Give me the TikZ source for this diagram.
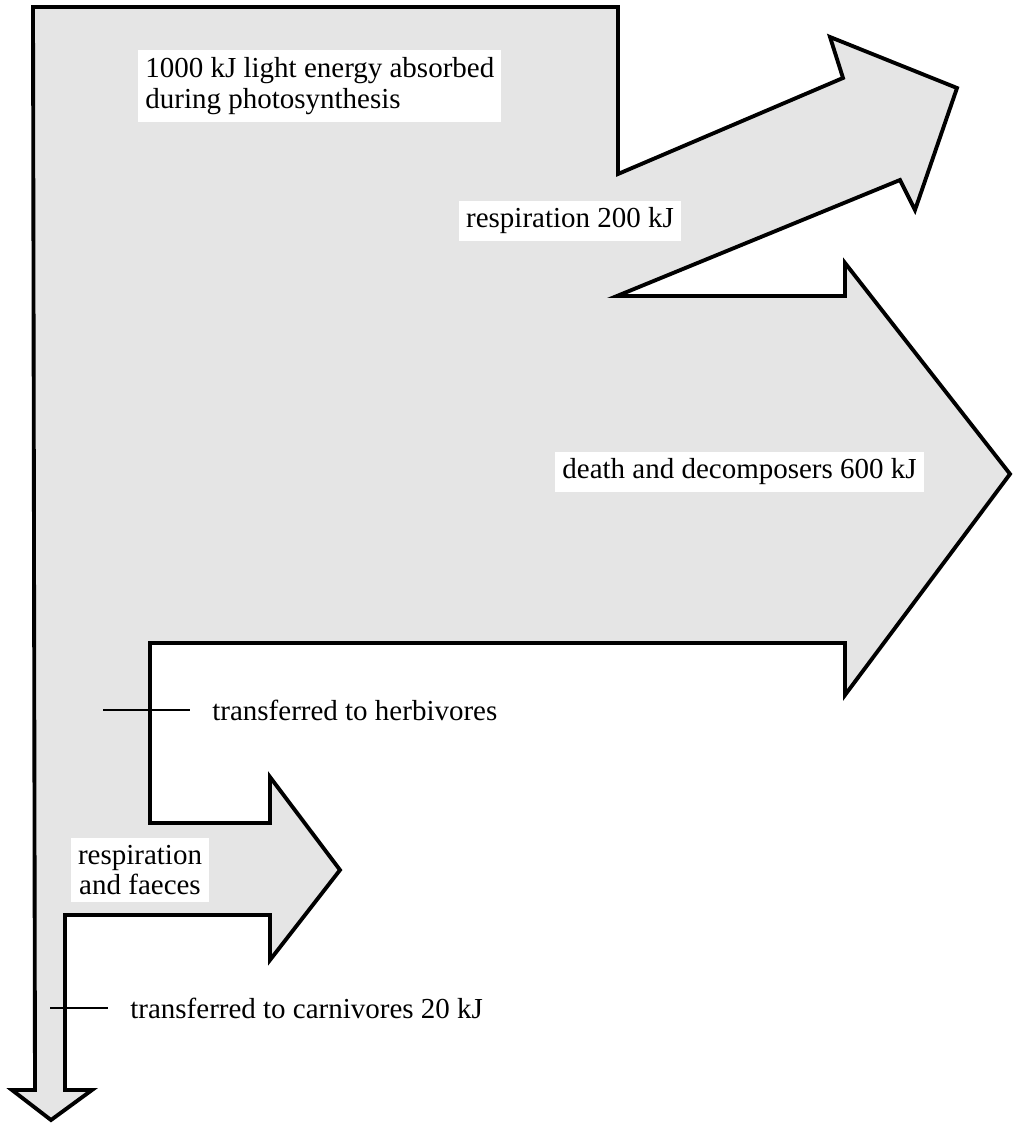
\documentclass[tikz,border=0pt]{standalone}
\usepackage{fontspec}
\setmainfont{Liberation Serif}
\usetikzlibrary{positioning}

\begin{document}
\begin{tikzpicture}[
        x=0.02cm, y=-0.02cm,
        flow/.style={draw=black, line width=2.2pt, fill=gray!20, line join=miter},
        lbl/.style={font=\fontsize{16.5}{17.5}\selectfont, inner sep=4pt, align=left},
        lblbox/.style={lbl, fill=white},
        leader/.style={line width=0.6pt, shorten >=0.3cm}]
        \useasboundingbox (0,0) rectangle (1014,1124);
        % energy band, top to bottom
        \draw[flow] (33,7) -- (618,7) -- (618,174) -- (843,78) -- (830,37) -- (957,88)
                -- (915,210) -- (900,180) -- (617,296) -- (845,296) -- (845,263)
                -- (1010,474) -- (845,695) -- (845,643) -- (150,643) -- (150,823)
                -- (270,823) -- (270,777) -- (340,870) -- (270,960) -- (270,915)
                -- (65,915) -- (65,1090) -- (92,1090) -- (51,1120) -- (12,1090)
                -- (35,1090) -- cycle;
        \node[lblbox, anchor=west] (light) at (138,86)
                {1000 kJ light energy absorbed\\during photosynthesis};
        \node[lblbox] (resp) at (570,221) {respiration 200 kJ};
        \node[lblbox, anchor=west] (death) at (555,472) {death and decomposers 600 kJ};
        \node[lblbox, align=center] (faeces) at (140,870) {respiration\\and faeces};
        % labels with leaders
        \node[lbl, anchor=west] (herb) at (205,710) {transferred to herbivores};
        \node[lbl, anchor=west] (carn) at (123,1008) {transferred to carnivores 20 kJ};
        \coordinate (herbtick) at (103,710);
        \coordinate (carntick) at (50,1008);
        \draw[leader] (herbtick) -- (herb.west);
        \draw[leader] (carntick) -- (carn.west);
\end{tikzpicture}
\end{document}
